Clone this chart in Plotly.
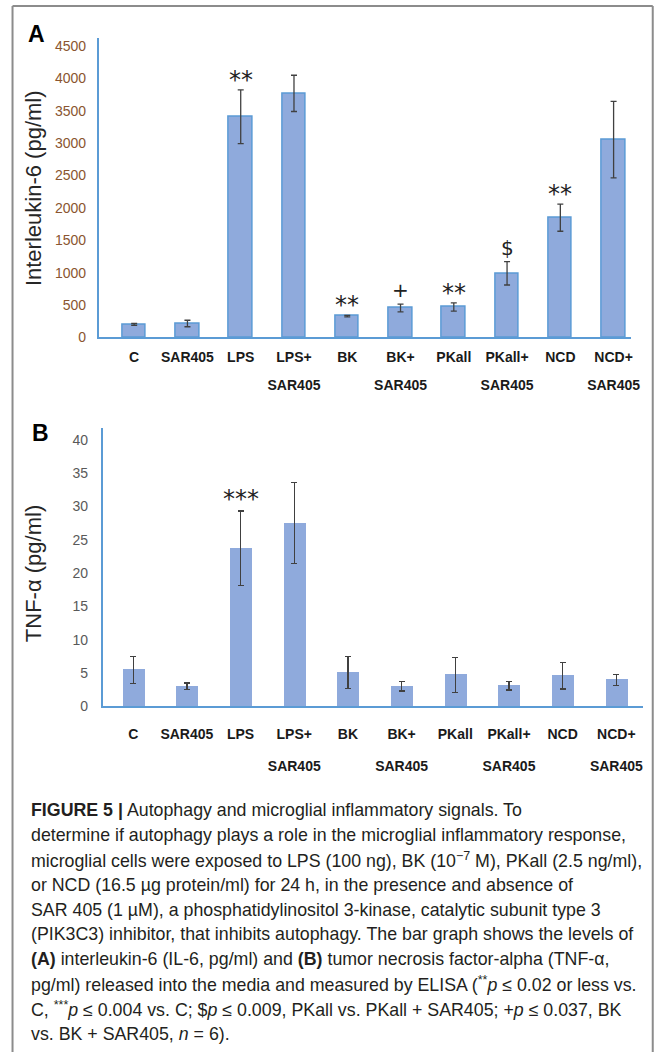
import plotly.graph_objects as go

W, H = 665, 1053

# ---------------- data ----------------
categories = ["C", "SAR405", "LPS", "LPS+ SAR405", "BK", "BK+ SAR405",
              "PKall", "PKall+ SAR405", "NCD", "NCD+ SAR405"]
tick_labels = ["C", "SAR405", "LPS", "LPS+", "BK", "BK+", "PKall", "PKall+", "NCD", "NCD+"]
second_line_cats = ["LPS+ SAR405", "BK+ SAR405", "PKall+ SAR405", "NCD+ SAR405"]
second_line_labels = ["SAR405", "SAR405", "SAR405", "SAR405"]

il6_mean = [200, 215, 3410, 3770, 330, 455, 470, 990, 1850, 3055]
il6_err = [15, 50, 415, 280, 12, 60, 65, 180, 210, 590]

tnf_mean = [5.46, 2.98, 23.7, 27.5, 5.06, 2.98, 4.72, 3.08, 4.61, 3.97]
tnf_err = [2.0, 0.5, 5.6, 6.1, 2.4, 0.7, 2.6, 0.65, 2.0, 0.82]

il6_marks = {"LPS": "**", "BK": "**", "BK+ SAR405": "+", "PKall": "**",
             "PKall+ SAR405": "$", "NCD": "**"}
tnf_marks = {"LPS": "***"}

il6_ticks = [0, 500, 1000, 1500, 2000, 2500, 3000, 3500, 4000, 4500]
tnf_ticks = [0, 5, 10, 15, 20, 25, 30, 35, 40]

caption_lines = [
    "<b>FIGURE 5 |</b> Autophagy and microglial inflammatory signals. To",
    "determine if autophagy plays a role in the microglial inflammatory response,",
    "microglial cells were exposed to LPS (100 ng), BK (10<sup>\u22127</sup> M), PKall (2.5 ng/ml),",
    "or NCD (16.5 \u00b5g protein/ml) for 24 h, in the presence and absence of",
    "SAR 405 (1 \u00b5M), a phosphatidylinositol 3-kinase, catalytic subunit type 3",
    "(PIK3C3) inhibitor, that inhibits autophagy. The bar graph shows the levels of",
    "<b>(A)</b> interleukin-6 (IL-6, pg/ml) and <b>(B)</b> tumor necrosis factor-alpha (TNF-\u03b1,",
    "pg/ml) released into the media and measured by ELISA (<sup>**</sup><i>p</i> \u2264 0.02 or less vs.",
    "C, <sup>***</sup><i>p</i> \u2264 0.004 vs. C; $<i>p</i> \u2264 0.009, PKall vs. PKall + SAR405; +<i>p</i> \u2264 0.037, BK",
    "vs. BK + SAR405, <i>n</i> = 6).",
]

# ---------------- helpers ----------------
def px(x):
    return x / W

def py(y):
    return 1 - y / H

BAR_FILL = "#8FAADC"
BLUE = "#5B9BD5"
FONT = "Liberation Sans"

fig = go.Figure()

fig.add_trace(go.Bar(
    x=categories, y=il6_mean, xaxis="x", yaxis="y", width=0.44,
    marker=dict(color=BAR_FILL, line=dict(color=BLUE, width=1.5)),
    error_y=dict(type="data", array=il6_err, color="#404040", thickness=1.3, width=3),
    showlegend=False,
))
fig.add_trace(go.Bar(
    x=categories, y=tnf_mean, xaxis="x2", yaxis="y2", width=0.41,
    marker=dict(color=BAR_FILL, line=dict(width=0)),
    error_y=dict(type="data", array=tnf_err, color="#404040", thickness=1.3, width=3),
    showlegend=False,
))
# invisible carriers for the second-line tick-label axes
fig.add_trace(go.Scatter(x=categories, y=[None] * len(categories), xaxis="x3", yaxis="y",
                         mode="markers", showlegend=False, hoverinfo="skip"))
fig.add_trace(go.Scatter(x=categories, y=[None] * len(categories), xaxis="x4", yaxis="y2",
                         mode="markers", showlegend=False, hoverinfo="skip"))

annotations = []
for i, c in enumerate(categories):
    if c in il6_marks:
        m = il6_marks[c]
        star = "*" in m
        annotations.append(dict(
            x=c, y=il6_mean[i] + il6_err[i], xref="x", yref="y",
            text=m, showarrow=False, xanchor="center", yanchor="bottom",
            yshift=-6 if star else 0,
            font=dict(family="DejaVu Sans", size=24 if star else 20, color="#222222")))
    if c in tnf_marks:
        annotations.append(dict(
            x=c, y=tnf_mean[i] + tnf_err[i], xref="x2", yref="y2",
            text=tnf_marks[c], showarrow=False, xanchor="center", yanchor="bottom", yshift=-4,
            font=dict(family="DejaVu Sans", size=24, color="#222222")))

# panel letters and y titles
annotations += [
    dict(x=px(37), y=py(34), xref="paper", yref="paper", text="<b>A</b>", showarrow=False,
         xanchor="center", yanchor="middle", font=dict(family=FONT, size=23, color="#000000")),
    dict(x=px(41), y=py(436), xref="paper", yref="paper", text="<b>B</b>", showarrow=False,
         xanchor="center", yanchor="middle", font=dict(family=FONT, size=23, color="#000000")),
    dict(x=px(34), y=py(190), xref="paper", yref="paper", text="Interleukin-6 (pg/ml)",
         textangle=-90, showarrow=False, xanchor="center", yanchor="middle",
         font=dict(family=FONT, size=22, color="#262626")),
    dict(x=px(34), y=py(578), xref="paper", yref="paper", text="TNF-\u03b1 (pg/ml)",
         textangle=-90, showarrow=False, xanchor="center", yanchor="middle",
         font=dict(family=FONT, size=22, color="#262626")),
]

for k, line in enumerate(caption_lines):
    annotations.append(dict(
        x=px(29), y=py(816.5 + 25 * k), xref="paper", yref="paper", text=line,
        showarrow=False, xanchor="left", yanchor="middle",
        font=dict(family=FONT, size=17.8, color="#231f20")))

shapes = [
    dict(type="line", xref="paper", yref="paper", x0=px(12.7), x1=px(661.7), y0=py(6), y1=py(6),
         line=dict(color="#8c8c8c", width=2)),
    dict(type="line", xref="paper", yref="paper", x0=px(12.7), x1=px(12.7), y0=py(6), y1=py(1060),
         line=dict(color="#8c8c8c", width=2)),
    dict(type="line", xref="paper", yref="paper", x0=px(661.7), x1=px(661.7), y0=py(6), y1=py(1060),
         line=dict(color="#8c8c8c", width=2)),
]

xtick_font = dict(family=FONT, size=14, color="#1a1a1a", weight="bold")
rangeA = [-0.667, 9.333]
rangeB = [-0.57, 9.5]

fig.update_layout(
    width=W, height=H,
    margin=dict(l=0, r=0, t=0, b=0),
    paper_bgcolor="white", plot_bgcolor="white",
    font=dict(family=FONT),
    bargap=0,
    xaxis=dict(domain=[px(100), px(640)], anchor="y", type="category",
               range=rangeA, tickmode="array", tickvals=categories, ticktext=tick_labels,
               showline=True, linecolor=BLUE, linewidth=1.5, ticks="", showgrid=False,
               tickfont=xtick_font, ticklabelstandoff=6),
    xaxis3=dict(domain=[px(100), px(640)], anchor="y", overlaying="x", side="bottom",
                type="category", range=rangeA, tickmode="array",
                tickvals=second_line_cats, ticktext=second_line_labels,
                showline=False, ticks="", showgrid=False, zeroline=False,
                tickfont=xtick_font, ticklabelstandoff=38),
    yaxis=dict(domain=[py(340), py(38)], anchor="x", range=[0, 4630],
               tickmode="array", tickvals=il6_ticks, showline=True, linecolor=BLUE,
               linewidth=1.5, ticks="", showgrid=False, zeroline=False,
               tickfont=dict(family=FONT, size=14, color="#8a5530"), ticklabelstandoff=8),
    xaxis2=dict(domain=[px(104), px(652)], anchor="y2", type="category",
                range=rangeB, tickmode="array", tickvals=categories, ticktext=tick_labels,
                showline=True, linecolor=BLUE, linewidth=1.5, ticks="", showgrid=False,
                tickfont=xtick_font, ticklabelstandoff=14),
    xaxis4=dict(domain=[px(104), px(652)], anchor="y2", overlaying="x2", side="bottom",
                type="category", range=rangeB, tickmode="array",
                tickvals=second_line_cats, ticktext=second_line_labels,
                showline=False, ticks="", showgrid=False, zeroline=False,
                tickfont=xtick_font, ticklabelstandoff=50),
    yaxis2=dict(domain=[py(711.7), py(431.7)], anchor="x2", range=[0, 41.7],
                tickmode="array", tickvals=tnf_ticks, showline=True, linecolor=BLUE,
                linewidth=1.5, ticks="", showgrid=False, zeroline=False,
                tickfont=dict(family=FONT, size=14, color="#595959"), ticklabelstandoff=10),
    annotations=annotations,
    shapes=shapes,
)

fig.write_html("out.html")
